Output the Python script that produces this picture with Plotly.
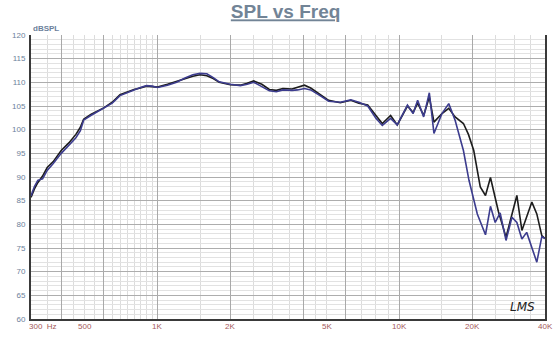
import math
import plotly.graph_objects as go

# Frequency response, two measurements (Hz, dB SPL)
freq_black = [300, 310, 320, 335, 350, 370, 400, 430, 460, 480, 495, 530, 600, 650, 700, 750,
              800, 850, 900, 950, 1000, 1100, 1200, 1300, 1400, 1500, 1600, 1700, 1800, 2000,
              2200, 2350, 2500, 2700, 2900, 3100, 3300, 3600, 3800, 4050, 4300, 4700, 5100,
              5700, 6300, 6800, 7400, 8000, 8500, 9200, 9800, 10800, 11400, 11900, 12600,
              13300, 13900, 15000, 16000, 17000, 18400, 19300, 20300, 21600, 22700, 23800,
              25700, 27600, 30600, 32100, 35300, 37000, 38800, 40000]
spl_black = [85.7, 87.5, 88.8, 90.2, 92.0, 93.2, 95.6, 97.2, 99.0, 100.5, 102.2, 103.2, 104.6,
             105.8, 107.4, 108.0, 108.5, 108.8, 109.2, 109.1, 109.0, 109.6, 110.2, 110.8, 111.3,
             111.6, 111.4, 110.8, 110.0, 109.5, 109.4, 109.8, 110.3, 109.6, 108.5, 108.3, 108.7,
             108.6, 108.9, 109.4, 108.8, 107.4, 106.2, 105.7, 106.2, 105.6, 105.2, 103.0, 101.3,
             103.0, 101.0, 105.0, 103.6, 105.6, 103.0, 106.9, 101.6, 103.4, 104.5, 102.7, 101.3,
             99.0, 95.6, 87.9, 86.1, 89.9, 82.6, 77.3, 86.1, 78.7, 84.7, 82.2, 77.6, 77.0]

freq_blue = [300, 310, 320, 335, 350, 370, 400, 430, 460, 480, 495, 530, 600, 650, 700, 750,
             800, 850, 900, 950, 1000, 1100, 1200, 1300, 1400, 1500, 1600, 1700, 1800, 2000,
             2200, 2350, 2500, 2700, 2900, 3100, 3300, 3600, 3800, 4050, 4300, 4700, 5100,
             5700, 6300, 6800, 7400, 8000, 8500, 9200, 9800, 10800, 11400, 11900, 12600,
             13300, 13900, 15000, 16000, 17000, 18400, 19400, 21000, 22700, 23800, 24900,
             26100, 27600, 29200, 30600, 32100, 33600, 37000, 38800, 40000]
spl_blue = [86.0, 88.0, 89.3, 89.6, 91.4, 92.8, 95.0, 96.8, 98.3, 99.8, 102.0, 103.0, 104.5,
            105.6, 107.2, 107.9, 108.4, 108.9, 109.3, 109.2, 108.9, 109.4, 110.0, 110.9, 111.6,
            111.9, 111.8, 111.0, 110.1, 109.6, 109.3, 109.6, 110.0, 109.1, 108.2, 108.0, 108.4,
            108.3, 108.4, 108.7, 108.4, 107.2, 106.0, 105.8, 106.3, 105.8, 105.0, 102.4, 100.9,
            102.4, 101.0, 105.2, 103.4, 106.2, 102.7, 107.8, 99.2, 103.4, 105.5, 102.0, 95.6,
            89.3, 82.2, 77.8, 83.8, 80.4, 82.4, 76.6, 81.5, 80.4, 76.9, 78.3, 72.0, 77.4, 77.0]

# Axis ticks and grid
x_label_vals = [300, 500, 1000, 2000, 5000, 10000, 20000, 40000]
x_label_text = ["300  Hz", "500", "1K", "2K", "5K", "10K", "20K", "40K"]
x_grid_major = [400, 600, 1000, 2000, 4000, 6000, 10000, 20000]
x_grid_minor = [350, 450, 500, 550, 650, 700, 750, 800, 850, 900, 950,
                1500, 2500, 3000, 3500, 4500, 5000, 7000, 8000, 9000,
                15000, 25000, 30000, 35000]
y_range = [60, 120]

FONT = "Liberation Sans, Arial, sans-serif"

fig = go.Figure()
fig.add_trace(go.Scatter(x=freq_black, y=spl_black, mode="lines",
                         line=dict(color="#1c1c1c", width=1.6)))
fig.add_trace(go.Scatter(x=freq_blue, y=spl_blue, mode="lines",
                         line=dict(color="#3c3c8e", width=1.6)))

xr = [math.log10(300), math.log10(40000)]

fig.update_layout(
    width=560, height=338,
    margin=dict(l=28, r=15, t=35, b=19),
    paper_bgcolor="white", plot_bgcolor="white",
    showlegend=False,
    title=dict(text="<b><u>SPL vs Freq</u></b>", x=0.51, xanchor="center",
               y=0.985, yanchor="top",
               font=dict(family=FONT, size=19, color="#728496")),
    xaxis=dict(type="log", range=xr, tickvals=x_grid_major, showticklabels=False,
               ticks="", showgrid=True, gridcolor="#a9a9a9", gridwidth=1,
               minor=dict(tickvals=x_grid_minor, showgrid=True, gridcolor="#dcdcdc", gridwidth=1),
               showline=True, linecolor="#3a3a3a", linewidth=2, zeroline=False),
    yaxis=dict(range=y_range, dtick=5, tick0=60, ticks="", showgrid=True,
               gridcolor="#adadad", gridwidth=1,
               minor=dict(dtick=1, showgrid=True, gridcolor="#e2e2e2", gridwidth=1),
               showline=True, linecolor="#3a3a3a", linewidth=2, mirror=True,
               zeroline=False, ticklabelstandoff=2,
               tickfont=dict(family=FONT, size=8, color="#6c7f9b")),
)

# Frequency labels under the axis
for fv, txt in zip(x_label_vals, x_label_text):
    is_first = fv == x_label_vals[0]
    fig.add_annotation(text=txt, xref="x", yref="paper", x=math.log10(fv), y=0,
                       xanchor="left" if is_first else "center", yanchor="top",
                       xshift=-4 if is_first else 0, yshift=-1, showarrow=False,
                       font=dict(family=FONT, size=8, color="#a4595a"))

fig.add_annotation(text="<b>dBSPL</b>", xref="paper", yref="paper", x=0, y=1,
                   xanchor="left", yanchor="bottom", showarrow=False,
                   font=dict(family=FONT, size=8, color="#6c7f9b"))
fig.add_annotation(text="<i>LMS</i>", xref="paper", yref="paper", x=0.985, y=0.01,
                   xanchor="right", yanchor="bottom", showarrow=False,
                   font=dict(family="DejaVu Sans, sans-serif", size=12, color="#222222"))

fig.write_html("out.html")
